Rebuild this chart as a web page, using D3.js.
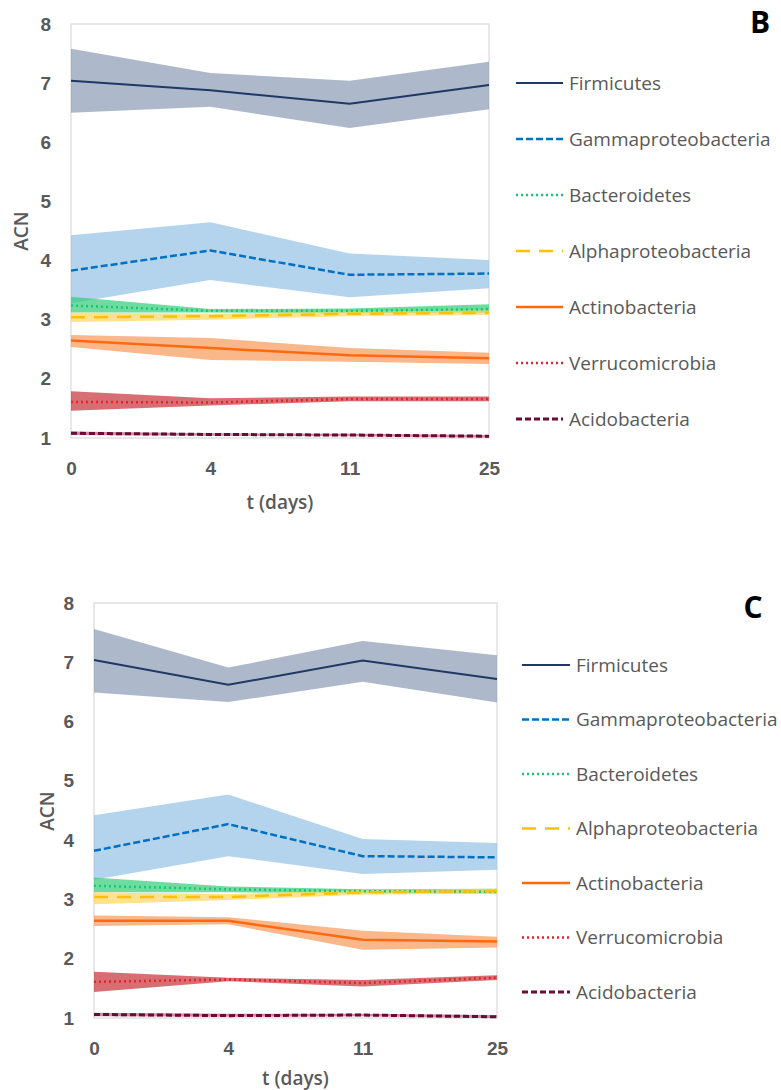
<!DOCTYPE html>
<html>
<head>
<meta charset="utf-8">
<script src="https://cdn.jsdelivr.net/npm/d3@7"></script>
<style>
  body { margin: 0; background: #fff; }
  svg { display: block; font-family: "Open Sans", "DejaVu Sans", sans-serif; }
</style>
</head>
<body>
<div id="chart"></div>
<script>
'use strict';

// sampling days (categorical, evenly spaced)
const times = ["0", "4", "11", "25"];
const yTicks = [1, 2, 3, 4, 5, 6, 7, 8];
const phyla = ["Firmicutes", "Gammaproteobacteria", "Bacteroidetes", "Alphaproteobacteria",
    "Actinobacteria", "Verrucomicrobia", "Acidobacteria"];

// panel B: mean ACN and band limits, one row per phylum
const meanB = [
    [7.04, 6.88, 6.65, 6.97],
    [3.83, 4.17, 3.76, 3.78],
    [3.24, 3.15, 3.15, 3.18],
    [3.04, 3.06, 3.10, 3.12],
    [2.65, 2.52, 2.40, 2.35],
    [1.61, 1.60, 1.66, 1.66],
    [1.08, 1.06, 1.05, 1.03]
];
const lowB = [
    [6.50, 6.60, 6.24, 6.56],
    [3.28, 3.67, 3.38, 3.53],
    [3.12, 3.12, 3.11, 3.12],
    [2.96, 3.00, 3.06, 3.08],
    [2.54, 2.32, 2.29, 2.25],
    [1.46, 1.55, 1.62, 1.62],
    [1.05, 1.04, 1.03, 1.01]
];
const highB = [
    [7.58, 7.17, 7.04, 7.36],
    [4.43, 4.65, 4.12, 4.01],
    [3.39, 3.18, 3.19, 3.26],
    [3.12, 3.10, 3.14, 3.16],
    [2.74, 2.69, 2.52, 2.44],
    [1.79, 1.67, 1.70, 1.70],
    [1.11, 1.08, 1.07, 1.05]
];

// panel C
const meanC = [
    [7.04, 6.62, 7.03, 6.72],
    [3.82, 4.27, 3.73, 3.71],
    [3.23, 3.17, 3.14, 3.13],
    [3.04, 3.04, 3.12, 3.14],
    [2.64, 2.64, 2.32, 2.29],
    [1.61, 1.65, 1.59, 1.68],
    [1.06, 1.04, 1.05, 1.02]
];
const lowC = [
    [6.49, 6.33, 6.67, 6.32],
    [3.33, 3.73, 3.43, 3.50],
    [3.12, 3.12, 3.11, 3.10],
    [2.92, 2.99, 3.08, 3.10],
    [2.55, 2.58, 2.15, 2.19],
    [1.44, 1.62, 1.53, 1.64],
    [1.03, 1.02, 1.03, 1.00]
];
const highC = [
    [7.56, 6.91, 7.36, 7.12],
    [4.42, 4.77, 4.02, 3.95],
    [3.37, 3.22, 3.17, 3.18],
    [3.12, 3.09, 3.16, 3.18],
    [2.73, 2.70, 2.47, 2.37],
    [1.78, 1.68, 1.64, 1.72],
    [1.09, 1.07, 1.07, 1.05]
];

// styles per phylum
const lineColors = ["#1f3864", "#0070c0", "#14c96e", "#ffc000", "#ff6a10", "#e8222a", "#6b0a35"];
const bandColors = ["#8a9bb3", "#94c2e7", "#30cd77", "#ffd65b", "#f69858", "#c43137", "#b05b7e"];
const dashes = [null, "7,3", "2,3", "14,9", null, "2,3", "6,3"];
const widths = [2, 2.5, 2.5, 2.5, 2.5, 2.5, 3];

const W = 781, H = 1090;
const svg = d3.select("#chart").append("svg")
    .attr("width", W)
    .attr("height", H)
    .attr("viewBox", `0 0 ${W} ${H}`);

const grey = "#595959";

function drawPanel(p, means, lows, highs) {
    let x = d3.scalePoint().domain(times).range([p.left, p.right]);
    let y = d3.scaleLinear().domain([1, 8]).range([p.bottom, p.top]);

    let g = svg.append("g");

    // plot border
    g.append("rect")
        .attr("x", p.left).attr("y", p.top)
        .attr("width", p.right - p.left).attr("height", p.bottom - p.top)
        .attr("fill", "none").attr("stroke", "#d9d9d9").attr("stroke-width", 1.2);

    let area = d3.area()
        .x((d, i) => x(times[i]))
        .y0(d => y(d[0]))
        .y1(d => y(d[1]));
    let line = d3.line()
        .x((d, i) => x(times[i]))
        .y(d => y(d));

    // bands
    g.selectAll(".band")
        .data(phyla)
        .join("path")
        .attr("class", "band")
        .attr("d", (d, k) => area(lows[k].map((v, i) => [v, highs[k][i]])))
        .attr("fill", (d, k) => bandColors[k])
        .attr("fill-opacity", 0.7);

    // mean lines
    g.selectAll(".mean")
        .data(phyla)
        .join("path")
        .attr("class", "mean")
        .attr("d", (d, k) => line(means[k]))
        .attr("fill", "none")
        .attr("stroke", (d, k) => lineColors[k])
        .attr("stroke-width", (d, k) => widths[k])
        .attr("stroke-dasharray", (d, k) => dashes[k]);

    // axes
    g.append("g")
        .attr("transform", `translate(${p.left},0)`)
        .call(d3.axisLeft(y).tickValues(yTicks).tickFormat(d3.format("d")).tickSize(0).tickPadding(20))
        .call(a => a.select(".domain").remove())
        .selectAll("text")
        .attr("fill", grey)
        .style("font-size", "19px")
        .style("font-weight", 600);

    g.append("g")
        .attr("transform", `translate(0,${p.bottom})`)
        .call(d3.axisBottom(x).tickSize(0))
        .call(a => a.select(".domain").remove())
        .selectAll("text")
        .attr("y", 30)
        .attr("dy", "0.35em")
        .attr("fill", grey)
        .style("font-size", "19px")
        .style("font-weight", 600);

    g.append("text")
        .attr("x", (p.left + p.right) / 2)
        .attr("y", p.xTitleY)
        .attr("dy", "0.35em")
        .attr("text-anchor", "middle")
        .attr("fill", grey)
        .style("font-size", "19px")
        .style("font-weight", 600)
        .text("t (days)");

    g.append("text")
        .attr("transform", `translate(${p.yTitleX},${p.yTitleY}) rotate(-90)`)
        .attr("dy", "0.35em")
        .attr("text-anchor", "middle")
        .attr("fill", grey)
        .style("font-size", "19px")
        .style("font-weight", 600)
        .text("ACN");

    // panel letter
    g.append("text")
        .attr("x", p.letterX)
        .attr("y", p.letterY)
        .attr("text-anchor", "middle")
        .attr("fill", "#000")
        .style("font-size", "30px")
        .style("font-weight", 700)
        .text(p.letter);

    // legend
    let leg = g.selectAll(".leg")
        .data(phyla)
        .join("g")
        .attr("class", "leg")
        .attr("transform", (d, k) => `translate(0,${p.legY + k * p.legStep})`);
    leg.append("line")
        .attr("x1", p.legX1).attr("x2", p.legX2)
        .attr("stroke", (d, k) => lineColors[k])
        .attr("stroke-width", (d, k) => widths[k])
        .attr("stroke-dasharray", (d, k) => dashes[k]);
    leg.append("text")
        .attr("x", p.legX2 + 6)
        .attr("dy", "0.35em")
        .attr("fill", grey)
        .style("font-size", "19px")
        .text(d => d);
}

drawPanel({
    left: 71, right: 489, top: 24, bottom: 438,
    xTitleY: 502, yTitleX: 21, yTitleY: 231,
    letter: "B", letterX: 760, letterY: 33,
    legX1: 516, legX2: 563, legY: 83, legStep: 56
}, meanB, lowB, highB);

drawPanel({
    left: 94, right: 497, top: 603, bottom: 1018,
    xTitleY: 1078, yTitleX: 47, yTitleY: 811,
    letter: "C", letterX: 753, letterY: 618,
    legX1: 522, legX2: 570, legY: 665, legStep: 54.5
}, meanC, lowC, highC);
</script>
</body>
</html>
